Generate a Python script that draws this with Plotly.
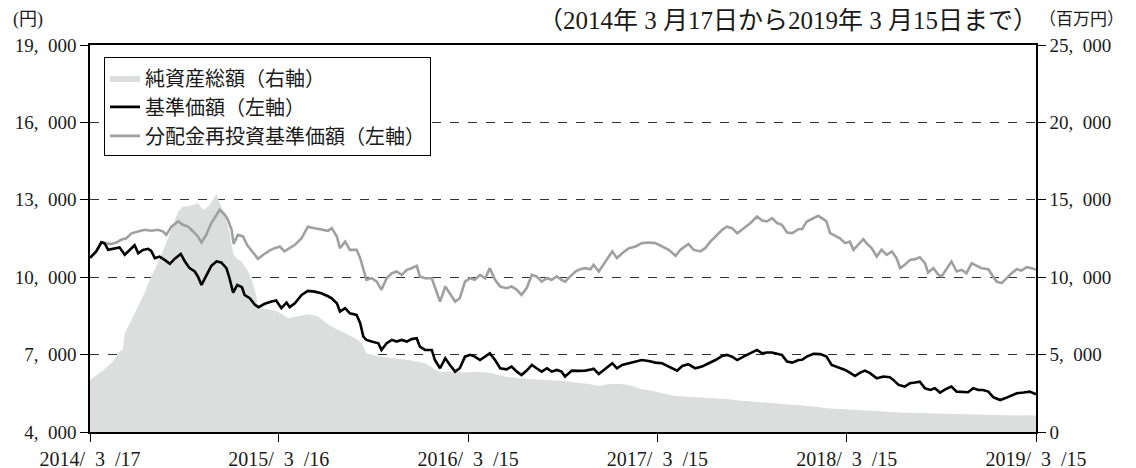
import plotly.graph_objects as go
import pandas as pd

START = pd.Timestamp("2014-03-17")
END = pd.Timestamp("2019-03-15")

# 基準価額（左軸） : days from 2014/3/17, value (円)
nav_days = [0, 12, 22, 28, 35, 44, 57, 67, 76, 86, 93, 102, 112, 118, 125, 134, 144, 154, 163, 175,
            183, 192, 202, 208, 215, 224, 234, 244, 253, 263, 269, 276, 284, 293, 298, 308, 318, 325, 337, 350,
            359, 369, 379, 385, 395, 408, 420, 433, 446, 459,
            466, 476, 482, 492, 501, 514, 521, 527, 533, 543, 556, 562, 572, 582, 591, 601, 611, 620, 630, 636,
            646, 659, 665, 675, 685, 694, 704, 713, 723, 733, 742, 752, 762, 771, 781, 791, 803, 813, 823, 832,
            842, 852, 861, 871, 881, 890, 900, 909, 916,
            920, 929, 942, 955, 968, 971, 981, 990, 1007, 1016, 1026, 1039, 1052, 1064, 1077, 1090, 1103, 1116, 1132, 1142,
            1154, 1167, 1180, 1193, 1206, 1219, 1228, 1238, 1248, 1260, 1273, 1286, 1296, 1305, 1315, 1325, 1334, 1344, 1354, 1366,
            1373, 1382, 1395, 1408, 1420, 1430, 1443, 1456, 1465, 1475, 1485, 1494, 1504, 1517, 1530, 1542, 1549, 1559, 1571, 1581,
            1591, 1600, 1610, 1620, 1629, 1639, 1649, 1661, 1671, 1684, 1693, 1703, 1713, 1722, 1732, 1742, 1755, 1764, 1774, 1787,
            1800, 1812, 1822, 1824]
nav_vals = [10750, 11000, 11350, 11320, 11060, 11090, 11150, 10870, 11060, 11240, 10930, 11060, 11100, 11020, 10740, 10800, 10670, 10520, 10710, 10900,
            10610, 10350, 10220, 10030, 9700, 10030, 10440, 10610, 10570, 10350, 9960, 9400, 9700, 9610, 9310, 9185, 8930, 8840, 8970, 9060,
            9100, 8800, 9020, 8840, 8990, 9310, 9470, 9440, 9380, 9260,
            9185, 8990, 8670, 8800, 8600, 8540, 8215, 7700, 7570, 7505, 7440, 7180, 7440, 7570, 7505, 7570, 7505, 7600, 7635, 7310,
            7180, 7180, 6790, 6470, 6860, 6600, 6340, 6470, 6920, 6990, 6920, 6790, 6920, 7050, 6790, 6470, 6430, 6535, 6340, 6210,
            6380, 6600, 6470, 6340, 6470, 6340, 6405, 6340, 6150,
            6210, 6380, 6370, 6380, 6430, 6450, 6250, 6405, 6665, 6470, 6600, 6665, 6730, 6790, 6755, 6690, 6665, 6535, 6380, 6560,
            6625, 6470, 6535, 6665, 6790, 6950, 6990, 6920, 6790, 6920, 7050, 7180, 7050, 7080, 7080, 7030, 6990, 6730, 6690, 6790,
            6800, 6920, 7030, 7020, 6920, 6600, 6510, 6405, 6300, 6170, 6300, 6380, 6280, 6080, 6150, 6120, 6020, 5825, 5760, 5890,
            5915, 5950, 5695, 5630, 5695, 5530, 5655, 5760, 5565, 5540, 5540, 5695, 5630, 5630, 5565, 5345, 5240, 5305, 5395, 5500,
            5530, 5565, 5475, 5490]

# 分配金再投資基準価額（左軸）
tr_days = [0, 12, 22, 31, 41, 51, 60, 70, 80, 93, 105, 118, 131, 141, 147, 157, 170, 179, 189, 199,
           208, 215, 224, 234, 244, 250, 260, 266, 273, 277, 285, 295, 303, 311, 318, 324, 334, 346, 356, 366,
           375, 385, 395, 408, 420, 433, 446, 459,
           466, 476, 482, 492, 501, 514, 521, 527, 533, 543, 553, 562, 572, 582, 591, 601, 611, 620, 630, 636,
           646, 659, 668, 675, 685, 694, 704, 713, 723, 733, 742, 752, 762, 771, 781, 791, 803, 813, 823, 832,
           842, 852, 861, 871, 881, 890, 900, 909, 916,
           926, 936, 945, 955, 965, 971, 981, 990, 1000, 1007, 1016, 1026, 1039, 1052, 1064, 1077, 1090, 1103, 1116, 1129,
           1138, 1154, 1164, 1177, 1186, 1196, 1206, 1219, 1228, 1238, 1248, 1260, 1273, 1286, 1296, 1305, 1315, 1325, 1334, 1344,
           1354, 1366, 1373,
           1382, 1395, 1404, 1414, 1420, 1427, 1436, 1446, 1456, 1465, 1472, 1481, 1491, 1497, 1507, 1517, 1526, 1536, 1546, 1555,
           1562, 1571, 1581, 1591, 1600, 1610, 1616, 1626, 1636, 1642, 1652, 1661, 1671, 1681, 1690, 1700, 1710, 1719, 1732, 1742,
           1748, 1758, 1767, 1777, 1787, 1796, 1806, 1816, 1824]
tr_vals = [10750, 11000, 11350, 11290, 11290, 11345, 11450, 11510, 11700, 11770, 11840, 11800, 11840, 11770, 11640, 11960, 12160, 12030, 11960, 11770,
           11580, 11345, 11640, 12100, 12420, 12610, 12420, 12220, 11840, 11290, 11640, 11580, 11250, 11060, 10870, 10710, 10870, 11030, 11125, 11190,
           11000, 11125, 11255, 11510, 11960, 11900, 11840, 11800,
           11900, 11580, 11125, 11380, 11060, 11060, 10740, 10285, 9900, 9960, 9830, 9510, 9960, 10155, 10220, 10090, 10285, 10350, 10440, 10030,
           9960, 9960, 9440, 9055, 9640, 9380, 9055, 9185, 9830, 9960, 9900, 10090, 9960, 10350, 9900, 9640, 9575, 9640, 9510, 9315,
           9575, 10090, 10030, 9830, 9960, 9900, 10030, 9900, 9830,
           10030, 10220, 10310, 10350, 10310, 10480, 10220, 10480, 10800, 11000, 10740, 10930, 11125, 11190, 11320, 11345, 11320, 11190, 11060, 10830,
           11060, 11290, 11060, 11000, 11125, 11380, 11580, 11840, 11960, 11900, 11700, 11900, 12095, 12350, 12200, 12160, 12290, 12095, 12030, 11730,
           11710, 11860, 11870,
           12160, 12290, 12380, 12250, 12160, 11710, 11600, 11510, 11320, 11380, 11060, 11250, 11475, 11320, 11125, 10800, 11060, 10870, 11000, 10740,
           10350, 10480, 10670, 10700, 10775, 10540, 10180, 10350, 10090, 10030, 10350, 10610, 10220, 10285, 10155, 10540, 10440, 10350, 10310, 10030,
           9830, 9770, 9960, 10155, 10310, 10260, 10390, 10350, 10285]

# 純資産総額（右軸） : 百万円
aum_days = [0, 22, 41, 57, 63, 67, 80, 93, 105, 118, 131, 144, 157, 170, 179, 189, 199, 208, 218, 228,
            237, 244, 250, 260, 269, 276, 282, 292, 305, 314, 321, 324, 343, 362, 382, 401, 420, 440, 459,
            472, 492, 511, 524, 533, 556, 582, 614, 646, 672, 697, 723, 749, 775, 800, 826, 852, 877, 916,
            936, 962, 981, 1000, 1026, 1045, 1064, 1084, 1103, 1129, 1154, 1180, 1206, 1231, 1257, 1283, 1309, 1334, 1360, 1373,
            1395, 1420, 1459, 1497, 1536, 1575, 1613, 1652, 1690, 1729, 1755, 1787, 1824]
aum_vals = [3360, 3900, 4440, 5195, 5300, 6380, 7240, 8100, 8970, 10040, 10900, 11980, 13060, 14250, 14570, 14570, 14680, 14780, 14350, 14570,
            15000, 15390, 14780, 14140, 12850, 11550, 11230, 11010, 10370, 9610, 8750, 8000, 7930, 7780, 7350, 7460, 7610, 7460, 6950,
            6700, 6380, 6060, 5730, 5090, 4870, 4765, 4655, 4440, 3900, 3900, 3840, 3900, 3790, 3580, 3470, 3410, 3360, 3300,
            3190, 3100, 2975, 3100, 3100, 2975, 2760, 2670, 2500, 2330, 2285, 2240, 2180, 2110, 2025, 1960, 1900, 1790, 1725, 1725,
            1640, 1530, 1470, 1420, 1315, 1250, 1210, 1165, 1145, 1100, 1060, 1060, 1080]

x_tick_dates = ["2014-03-17", "2015-03-16", "2016-03-15", "2017-03-15", "2018-03-15", "2019-03-15"]
x_tick_text = ["2014/\u20023\u2002/17", "2015/\u20023\u2002/16", "2016/\u20023\u2002/15",
               "2017/\u20023\u2002/15", "2018/\u20023\u2002/15", "2019/\u20023\u2002/15"]
left_ticks = [4000, 7000, 10000, 13000, 16000, 19000]
left_text = ["4,\u2002000", "7,\u2002000", "10,\u2002000", "13,\u2002000", "16,\u2002000", "19,\u2002000"]
right_ticks = [0, 5000, 10000, 15000, 20000, 25000]
right_text = ["0", "5,\u2002000", "10,\u2002000", "15,\u2002000", "20,\u2002000", "25,\u2002000"]


def to_dates(days):
    return [START + pd.Timedelta(days=d) for d in days]


SERIF = "Liberation Serif, Noto Sans CJK JP"
CJK = "Noto Sans CJK JP"
INK = "#1a1a1a"

fig = go.Figure()
fig.add_trace(go.Scatter(
    x=to_dates(aum_days), y=aum_vals, name="純資産総額（右軸）", mode="lines",
    fill="tozeroy", fillcolor="#dcdddd", line=dict(width=0, color="#dcdddd"),
    yaxis="y", legendrank=1))
fig.add_trace(go.Scatter(
    x=to_dates(tr_days), y=tr_vals, name="分配金再投資基準価額（左軸）", mode="lines",
    line=dict(color="#a0a0a0", width=2.6), yaxis="y2", legendrank=3))
fig.add_trace(go.Scatter(
    x=to_dates(nav_days), y=nav_vals, name="基準価額（左軸）", mode="lines",
    line=dict(color="#000000", width=2.6), yaxis="y2", legendrank=2))

fig.update_layout(
    width=1136, height=468,
    margin=dict(l=82, r=108, t=37, b=44),
    paper_bgcolor="white", plot_bgcolor="white",
    font=dict(family=SERIF, color=INK),
    showlegend=True,
    legend=dict(x=0.0148, y=0.968, xanchor="left", yanchor="top",
                bordercolor="#000000", borderwidth=1, bgcolor="white",
                font=dict(family=CJK, size=20, color=INK),
                itemwidth=30, tracegroupgap=0),
    xaxis=dict(type="date", range=[START, END], tickmode="array",
               tickvals=x_tick_dates, ticktext=x_tick_text,
               ticks="outside", ticklen=8, tickcolor="#000000",
               showline=True, linecolor="#000000", linewidth=1.5, mirror=True,
               showgrid=False, zeroline=False, automargin=False,
               tickfont=dict(family=SERIF, size=20, color=INK)),
    yaxis=dict(side="right", range=[0, 25000], tickmode="array",
               tickvals=right_ticks, ticktext=right_text,
               ticks="outside", ticklen=8, tickcolor="#000000",
               showline=True, linecolor="#000000", linewidth=1.5, mirror=True,
               showgrid=True, gridcolor="#333333", gridwidth=1, griddash="dash",
               zeroline=False, automargin=False,
               tickfont=dict(family=SERIF, size=19, color=INK)),
    yaxis2=dict(overlaying="y", side="left", range=[4000, 19000], tickmode="array",
                tickvals=left_ticks, ticktext=left_text,
                ticks="outside", ticklen=8, tickcolor="#000000",
                showline=True, linecolor="#000000", linewidth=1.5,
                showgrid=False, zeroline=False, automargin=False,
                tickfont=dict(family=SERIF, size=19, color=INK)),
    annotations=[
        dict(text="(円)", xref="paper", yref="paper", x=-0.066, y=1.065,
             xanchor="center", yanchor="middle", showarrow=False,
             font=dict(family=SERIF, size=18, color=INK)),
        dict(text="（百万円）", xref="paper", yref="paper", x=1.048, y=1.065,
             xanchor="center", yanchor="middle", showarrow=False,
             font=dict(family=SERIF, size=17, color=INK)),
        dict(text="（2014年 3 月17日から2019年 3 月15日まで）", xref="paper", yref="paper",
             x=1.004, y=1.064, xanchor="right", yanchor="middle", showarrow=False,
             font=dict(family=SERIF, size=25, color=INK)),
    ],
)

fig.write_html("out.html")
